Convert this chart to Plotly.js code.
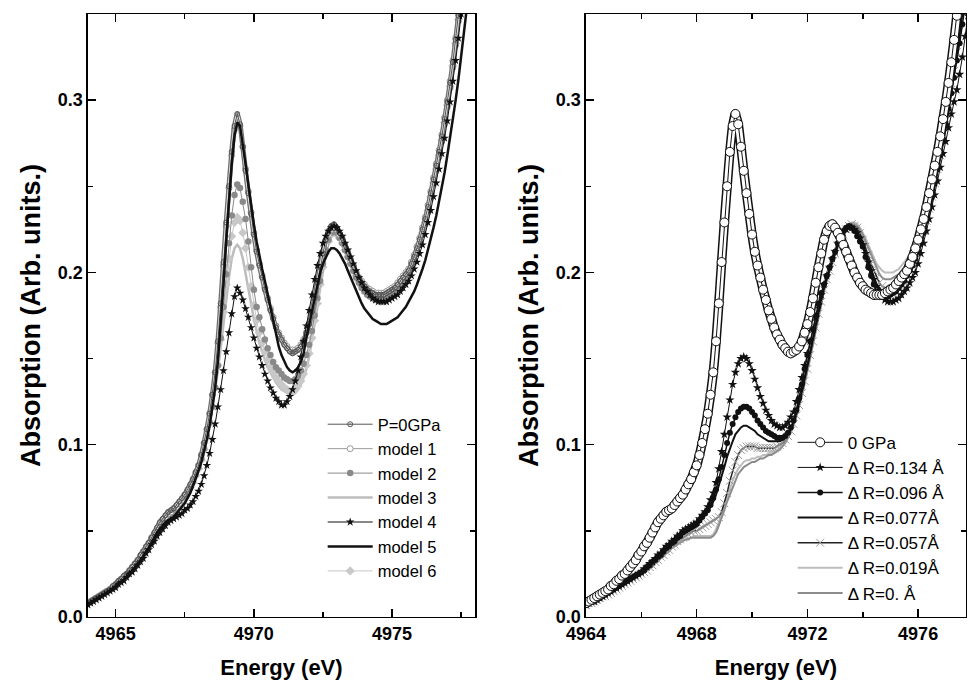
<!DOCTYPE html>
<html><head><meta charset="utf-8">
<script src="https://cdn.plot.ly/plotly-3.0.1.min.js"></script>
<style>html,body{margin:0;padding:0;background:#fff}#chart{width:969px;height:684px}</style>
</head><body><div id="chart"></div>
<script>
// Energy grid (eV)
const energy = [
4964.0,4964.1,4964.2,4964.3,4964.4,4964.5,4964.6,4964.7,4964.8,4964.9,
4965.0,4965.1,4965.2,4965.3,4965.4,4965.5,4965.6,4965.7,4965.8,4965.9,
4966.0,4966.1,4966.2,4966.3,4966.4,4966.5,4966.6,4966.7,4966.8,4966.9,
4967.0,4967.1,4967.2,4967.3,4967.4,4967.5,4967.6,4967.7,4967.8,4967.9,
4968.0,4968.1,4968.2,4968.3,4968.4,4968.5,4968.6,4968.7,4968.8,4968.9,
4969.0,4969.1,4969.2,4969.3,4969.4,4969.5,4969.6,4969.7,4969.8,4969.9,
4970.0,4970.1,4970.2,4970.3,4970.4,4970.5,4970.6,4970.7,4970.8,4970.9,
4971.0,4971.1,4971.2,4971.3,4971.4,4971.5,4971.6,4971.7,4971.8,4971.9,
4972.0,4972.1,4972.2,4972.3,4972.4,4972.5,4972.6,4972.7,4972.8,4972.9,
4973.0,4973.1,4973.2,4973.3,4973.4,4973.5,4973.6,4973.7,4973.8,4973.9,
4974.0,4974.1,4974.2,4974.3,4974.4,4974.5,4974.6,4974.7,4974.8,4974.9,
4975.0,4975.1,4975.2,4975.3,4975.4,4975.5,4975.6,4975.7,4975.8,4975.9,
4976.0,4976.1,4976.2,4976.3,4976.4,4976.5,4976.6,4976.7,4976.8,4976.9,
4977.0,4977.1,4977.2,4977.3,4977.4,4977.5,4977.6,4977.7,4977.8,4977.9,
4978.0];

// Measured spectrum at P = 0 GPa (used in both panels)
const p0GPa = [
0.008,0.009,0.010,0.011,0.012,0.013,0.014,0.015,0.016,0.018,0.019,0.021,0.022,0.024,0.025,0.027,0.029,0.031,0.033,0.036,
0.038,0.041,0.043,0.046,0.049,0.052,0.055,0.057,0.059,0.061,0.062,0.063,0.065,0.067,0.069,0.071,0.074,0.077,0.080,0.084,
0.088,0.094,0.101,0.109,0.118,0.129,0.142,0.160,0.182,0.206,0.229,0.250,0.270,0.285,0.292,0.286,0.273,0.259,0.246,0.234,
0.222,0.212,0.204,0.197,0.190,0.184,0.178,0.173,0.168,0.164,0.161,0.158,0.156,0.154,0.153,0.154,0.155,0.157,0.160,0.165,
0.170,0.177,0.185,0.194,0.203,0.211,0.219,0.224,0.227,0.228,0.226,0.223,0.220,0.216,0.212,0.208,0.204,0.200,0.197,0.194,
0.192,0.190,0.189,0.188,0.187,0.187,0.187,0.187,0.188,0.189,0.190,0.191,0.193,0.195,0.197,0.199,0.201,0.205,0.209,0.214,
0.219,0.225,0.231,0.238,0.246,0.254,0.262,0.270,0.279,0.289,0.299,0.310,0.322,0.335,0.349,0.363,0.377,0.391,0.405,0.419,0.433];

// Left panel models
const model1 = [
0.008,0.009,0.010,0.011,0.012,0.013,0.014,0.015,0.016,0.017,0.019,0.020,0.022,0.023,0.025,0.027,0.029,0.031,0.033,0.035,
0.038,0.040,0.043,0.046,0.048,0.051,0.054,0.056,0.058,0.060,0.061,0.063,0.064,0.066,0.068,0.071,0.073,0.076,0.080,0.084,
0.088,0.094,0.101,0.109,0.118,0.129,0.142,0.159,0.180,0.204,0.227,0.249,0.268,0.283,0.290,0.285,0.273,0.260,0.247,0.235,
0.223,0.213,0.205,0.198,0.191,0.185,0.179,0.174,0.169,0.165,0.162,0.159,0.157,0.155,0.155,0.155,0.156,0.158,0.161,0.165,
0.170,0.176,0.184,0.192,0.201,0.209,0.216,0.222,0.225,0.226,0.225,0.222,0.219,0.215,0.211,0.207,0.204,0.200,0.197,0.195,
0.193,0.191,0.190,0.189,0.188,0.188,0.188,0.188,0.189,0.190,0.191,0.192,0.194,0.196,0.198,0.200,0.202,0.206,0.210,0.215,
0.220,0.226,0.232,0.239,0.247,0.255,0.263,0.271,0.280,0.290,0.300,0.311,0.323,0.336,0.350,0.364,0.378,0.392,0.406,0.420,0.434];
const model2 = [
0.008,0.009,0.010,0.011,0.012,0.013,0.014,0.015,0.016,0.017,0.018,0.020,0.021,0.023,0.024,0.026,0.028,0.030,0.032,0.034,
0.036,0.039,0.041,0.044,0.046,0.049,0.051,0.053,0.055,0.057,0.059,0.061,0.063,0.065,0.067,0.070,0.072,0.075,0.079,0.083,
0.087,0.092,0.098,0.105,0.113,0.122,0.133,0.146,0.162,0.180,0.199,0.217,0.233,0.245,0.251,0.249,0.241,0.231,0.218,0.203,
0.190,0.180,0.174,0.167,0.161,0.156,0.152,0.148,0.145,0.143,0.141,0.139,0.138,0.137,0.137,0.138,0.140,0.143,0.147,0.152,
0.158,0.166,0.175,0.185,0.195,0.205,0.213,0.219,0.223,0.224,0.223,0.220,0.217,0.213,0.209,0.205,0.201,0.197,0.194,0.191,
0.189,0.187,0.186,0.185,0.184,0.184,0.184,0.184,0.185,0.186,0.187,0.188,0.190,0.192,0.194,0.196,0.198,0.202,0.206,0.211,
0.216,0.222,0.228,0.235,0.243,0.251,0.259,0.267,0.276,0.286,0.296,0.307,0.319,0.332,0.346,0.360,0.374,0.388,0.402,0.416,0.430];
const model3 = [
0.008,0.009,0.010,0.011,0.012,0.013,0.014,0.015,0.016,0.017,0.018,0.019,0.021,0.022,0.024,0.026,0.027,0.029,0.031,0.033,
0.036,0.038,0.040,0.043,0.045,0.048,0.050,0.052,0.054,0.056,0.058,0.060,0.062,0.064,0.066,0.069,0.072,0.075,0.078,0.082,
0.086,0.091,0.097,0.104,0.112,0.121,0.131,0.143,0.156,0.170,0.184,0.197,0.208,0.214,0.216,0.214,0.208,0.200,0.191,0.182,
0.173,0.165,0.159,0.154,0.149,0.145,0.142,0.139,0.136,0.134,0.132,0.131,0.130,0.129,0.129,0.130,0.132,0.135,0.139,0.144,
0.151,0.160,0.170,0.180,0.191,0.201,0.210,0.217,0.221,0.222,0.221,0.219,0.216,0.212,0.208,0.204,0.200,0.197,0.194,0.191,
0.189,0.188,0.187,0.186,0.186,0.186,0.186,0.186,0.187,0.188,0.189,0.190,0.192,0.194,0.196,0.198,0.200,0.204,0.208,0.213,
0.218,0.224,0.230,0.237,0.245,0.253,0.261,0.269,0.278,0.288,0.298,0.309,0.321,0.334,0.348,0.362,0.376,0.390,0.404,0.418,0.432];
const model4 = [
0.007,0.008,0.009,0.010,0.011,0.012,0.013,0.014,0.015,0.016,0.017,0.019,0.020,0.021,0.023,0.025,0.026,0.028,0.030,0.032,
0.034,0.037,0.039,0.042,0.044,0.047,0.049,0.051,0.053,0.055,0.056,0.057,0.058,0.059,0.060,0.062,0.063,0.065,0.067,0.070,
0.073,0.077,0.082,0.088,0.095,0.103,0.112,0.122,0.132,0.143,0.154,0.165,0.176,0.186,0.191,0.188,0.184,0.179,0.174,0.168,
0.162,0.156,0.151,0.146,0.141,0.137,0.133,0.130,0.127,0.125,0.123,0.123,0.125,0.128,0.132,0.137,0.143,0.151,0.160,0.169,
0.178,0.187,0.196,0.204,0.211,0.217,0.221,0.224,0.226,0.227,0.226,0.224,0.221,0.217,0.213,0.209,0.205,0.201,0.197,0.194,
0.191,0.189,0.187,0.185,0.184,0.183,0.183,0.183,0.183,0.184,0.185,0.186,0.187,0.189,0.191,0.193,0.195,0.198,0.202,0.206,
0.211,0.216,0.222,0.229,0.236,0.244,0.252,0.260,0.269,0.278,0.288,0.299,0.311,0.323,0.336,0.350,0.364,0.378,0.392,0.406,0.420];
const model5 = [
0.007,0.008,0.009,0.010,0.011,0.012,0.013,0.014,0.015,0.016,0.018,0.019,0.020,0.022,0.023,0.025,0.027,0.029,0.031,0.033,
0.035,0.038,0.040,0.043,0.046,0.049,0.051,0.053,0.055,0.056,0.057,0.058,0.060,0.062,0.064,0.066,0.069,0.072,0.076,0.080,
0.085,0.090,0.096,0.103,0.111,0.121,0.133,0.149,0.169,0.193,0.218,0.242,0.263,0.279,0.287,0.285,0.275,0.263,0.251,0.238,
0.228,0.218,0.209,0.202,0.195,0.187,0.179,0.171,0.163,0.157,0.152,0.148,0.145,0.143,0.142,0.143,0.145,0.148,0.153,0.162,
0.170,0.178,0.186,0.194,0.200,0.205,0.209,0.212,0.214,0.214,0.213,0.211,0.208,0.205,0.201,0.197,0.193,0.189,0.185,0.182,
0.179,0.177,0.175,0.173,0.172,0.171,0.170,0.170,0.170,0.171,0.172,0.173,0.174,0.176,0.178,0.180,0.183,0.186,0.189,0.193,
0.197,0.202,0.207,0.213,0.219,0.226,0.233,0.241,0.249,0.258,0.268,0.278,0.289,0.300,0.312,0.325,0.338,0.352,0.366,0.380,0.394];
const model6 = [
0.008,0.009,0.010,0.011,0.012,0.013,0.014,0.015,0.016,0.017,0.018,0.020,0.021,0.023,0.024,0.026,0.028,0.030,0.032,0.034,
0.036,0.039,0.041,0.043,0.046,0.048,0.051,0.053,0.055,0.057,0.059,0.061,0.063,0.065,0.067,0.069,0.072,0.075,0.078,0.082,
0.086,0.091,0.097,0.104,0.112,0.122,0.133,0.146,0.161,0.177,0.193,0.208,0.221,0.229,0.232,0.230,0.223,0.214,0.203,0.192,
0.181,0.172,0.165,0.159,0.154,0.149,0.145,0.142,0.139,0.137,0.135,0.133,0.132,0.131,0.131,0.132,0.134,0.137,0.141,0.146,
0.153,0.162,0.172,0.182,0.193,0.203,0.211,0.218,0.222,0.223,0.222,0.220,0.217,0.213,0.209,0.205,0.201,0.198,0.195,0.192,
0.190,0.188,0.187,0.186,0.185,0.185,0.185,0.185,0.186,0.187,0.188,0.189,0.191,0.193,0.195,0.197,0.199,0.203,0.207,0.212,
0.217,0.223,0.229,0.236,0.244,0.252,0.260,0.268,0.277,0.287,0.297,0.308,0.320,0.333,0.347,0.361,0.375,0.389,0.403,0.417,0.431];

// Right panel: calculated spectra for bond-length changes
const dR0134 = [
0.007,0.008,0.009,0.009,0.010,0.011,0.012,0.013,0.014,0.015,0.016,0.017,0.018,0.019,0.020,0.021,0.022,0.023,0.024,0.025,
0.026,0.028,0.029,0.031,0.032,0.034,0.036,0.037,0.039,0.041,0.042,0.044,0.045,0.047,0.048,0.050,0.051,0.052,0.053,0.054,
0.055,0.057,0.059,0.061,0.064,0.068,0.072,0.078,0.086,0.096,0.106,0.116,0.126,0.135,0.142,0.147,0.150,0.151,0.150,0.147,
0.143,0.138,0.133,0.128,0.124,0.120,0.117,0.114,0.112,0.111,0.110,0.110,0.111,0.113,0.116,0.119,0.125,0.132,0.139,0.146,
0.153,0.160,0.167,0.174,0.181,0.187,0.193,0.198,0.203,0.208,0.212,0.217,0.220,0.223,0.225,0.226,0.226,0.225,0.223,0.220,
0.216,0.211,0.206,0.201,0.196,0.192,0.189,0.186,0.184,0.183,0.183,0.183,0.184,0.185,0.187,0.189,0.191,0.194,0.197,0.200,
0.205,0.211,0.217,0.224,0.231,0.238,0.245,0.253,0.261,0.269,0.276,0.284,0.292,0.299,0.306,0.315,0.325,0.337,0.349,0.362,0.375];
const dR0096 = [
0.007,0.008,0.009,0.009,0.010,0.011,0.012,0.013,0.014,0.015,0.016,0.017,0.018,0.019,0.020,0.021,0.022,0.023,0.024,0.025,
0.026,0.027,0.029,0.030,0.032,0.033,0.035,0.036,0.038,0.040,0.041,0.043,0.044,0.046,0.047,0.049,0.050,0.051,0.052,0.053,
0.054,0.056,0.058,0.060,0.062,0.065,0.069,0.074,0.080,0.087,0.094,0.101,0.107,0.112,0.116,0.119,0.121,0.122,0.122,0.121,
0.119,0.117,0.114,0.112,0.110,0.108,0.107,0.106,0.105,0.104,0.104,0.104,0.105,0.107,0.110,0.114,0.120,0.127,0.135,0.144,
0.152,0.160,0.167,0.175,0.182,0.188,0.193,0.198,0.203,0.208,0.212,0.217,0.221,0.224,0.226,0.227,0.226,0.224,0.221,0.218,
0.215,0.209,0.203,0.198,0.193,0.189,0.187,0.186,0.186,0.186,0.187,0.188,0.189,0.191,0.193,0.195,0.198,0.201,0.204,0.208,
0.212,0.217,0.223,0.230,0.237,0.244,0.252,0.260,0.268,0.277,0.286,0.295,0.304,0.313,0.323,0.333,0.344,0.355,0.367,0.379,0.391];
const dR0077 = [
0.007,0.008,0.008,0.009,0.010,0.011,0.012,0.013,0.014,0.015,0.016,0.017,0.018,0.019,0.020,0.021,0.022,0.023,0.024,0.025,
0.026,0.027,0.028,0.030,0.031,0.033,0.034,0.036,0.037,0.039,0.040,0.042,0.043,0.045,0.046,0.048,0.049,0.050,0.051,0.052,
0.053,0.055,0.057,0.059,0.061,0.064,0.067,0.071,0.076,0.081,0.087,0.093,0.098,0.102,0.106,0.108,0.110,0.111,0.111,0.110,
0.109,0.108,0.106,0.105,0.104,0.103,0.102,0.102,0.102,0.102,0.102,0.103,0.104,0.106,0.109,0.113,0.118,0.124,0.131,0.139,
0.147,0.155,0.163,0.171,0.178,0.185,0.191,0.197,0.202,0.207,0.212,0.216,0.220,0.223,0.225,0.226,0.226,0.225,0.223,0.220,
0.216,0.211,0.206,0.201,0.197,0.193,0.191,0.189,0.188,0.188,0.188,0.189,0.190,0.191,0.193,0.195,0.197,0.200,0.203,0.207,
0.211,0.216,0.222,0.228,0.235,0.242,0.250,0.258,0.266,0.275,0.284,0.294,0.304,0.315,0.326,0.338,0.350,0.362,0.375,0.388,0.401];
const dR0057 = [
0.007,0.008,0.008,0.009,0.010,0.011,0.012,0.012,0.013,0.014,0.015,0.016,0.017,0.018,0.019,0.020,0.021,0.022,0.023,0.024,
0.025,0.026,0.027,0.029,0.030,0.032,0.033,0.035,0.036,0.038,0.039,0.041,0.042,0.044,0.045,0.046,0.047,0.048,0.049,0.050,
0.050,0.051,0.052,0.053,0.054,0.055,0.056,0.057,0.058,0.061,0.066,0.072,0.079,0.085,0.090,0.094,0.097,0.098,0.099,0.099,
0.099,0.099,0.098,0.098,0.098,0.098,0.098,0.098,0.098,0.099,0.100,0.101,0.103,0.105,0.108,0.112,0.117,0.123,0.130,0.137,
0.144,0.152,0.160,0.168,0.176,0.183,0.190,0.196,0.201,0.206,0.211,0.215,0.219,0.222,0.225,0.227,0.228,0.227,0.226,0.223,
0.219,0.215,0.210,0.205,0.201,0.197,0.194,0.192,0.191,0.190,0.190,0.191,0.192,0.193,0.195,0.197,0.199,0.202,0.205,0.209,
0.213,0.218,0.224,0.230,0.237,0.244,0.252,0.260,0.268,0.277,0.286,0.296,0.306,0.317,0.328,0.340,0.352,0.364,0.377,0.390,0.403];
const dR0019 = [
0.007,0.008,0.008,0.009,0.010,0.010,0.011,0.012,0.013,0.014,0.015,0.016,0.017,0.018,0.019,0.020,0.021,0.022,0.023,0.024,
0.025,0.026,0.027,0.028,0.030,0.031,0.033,0.034,0.036,0.037,0.039,0.040,0.041,0.043,0.044,0.045,0.045,0.046,0.046,0.047,
0.047,0.047,0.047,0.047,0.047,0.047,0.048,0.051,0.055,0.060,0.064,0.069,0.074,0.079,0.083,0.086,0.088,0.090,0.091,0.091,
0.092,0.092,0.093,0.093,0.094,0.094,0.095,0.095,0.096,0.097,0.098,0.100,0.102,0.105,0.108,0.112,0.117,0.123,0.129,0.136,
0.143,0.151,0.159,0.167,0.175,0.183,0.190,0.196,0.202,0.207,0.212,0.216,0.220,0.223,0.226,0.228,0.229,0.229,0.228,0.226,
0.223,0.220,0.216,0.212,0.208,0.205,0.203,0.201,0.200,0.200,0.200,0.200,0.201,0.202,0.204,0.206,0.208,0.211,0.214,0.218,
0.222,0.227,0.233,0.239,0.246,0.253,0.261,0.269,0.277,0.286,0.295,0.305,0.316,0.327,0.339,0.351,0.363,0.376,0.389,0.402,0.415];
const dR0000 = [
0.007,0.008,0.008,0.009,0.010,0.010,0.011,0.012,0.013,0.014,0.015,0.016,0.017,0.018,0.019,0.020,0.021,0.022,0.023,0.024,
0.025,0.026,0.027,0.028,0.029,0.031,0.032,0.034,0.035,0.037,0.038,0.040,0.041,0.042,0.043,0.044,0.045,0.045,0.046,0.046,
0.046,0.046,0.046,0.046,0.046,0.046,0.047,0.049,0.053,0.057,0.062,0.067,0.071,0.076,0.080,0.083,0.085,0.087,0.088,0.089,
0.090,0.090,0.091,0.092,0.092,0.093,0.094,0.094,0.095,0.096,0.097,0.099,0.101,0.104,0.107,0.111,0.116,0.122,0.128,0.135,
0.142,0.150,0.158,0.166,0.174,0.182,0.189,0.195,0.201,0.206,0.211,0.215,0.219,0.222,0.225,0.227,0.228,0.228,0.227,0.225,
0.222,0.218,0.214,0.210,0.206,0.202,0.199,0.197,0.196,0.196,0.196,0.197,0.198,0.199,0.201,0.203,0.205,0.208,0.211,0.215,
0.219,0.224,0.230,0.236,0.243,0.250,0.258,0.266,0.274,0.283,0.292,0.302,0.313,0.324,0.336,0.348,0.360,0.373,0.386,0.399,0.412];

const leftNames = ['P=0GPa','model 1','model 2','model 3','model 4','model 5','model 6'];
const rightNames = ['0 GPa','\u0394 R=0.134 \u00C5','\u0394 R=0.096 \u00C5','\u0394 R=0.077\u00C5','\u0394 R=0.057\u00C5','\u0394 R=0.019\u00C5','\u0394 R=0. \u00C5'];

const FONT = 'Liberation Sans, Arial, Helvetica, sans-serif';

function tr(y, name, rank, panel, style) {
  const t = {
    x: energy, y: y, name: name, legendrank: rank, type: 'scatter',
    xaxis: panel === 1 ? 'x' : 'x2', yaxis: panel === 1 ? 'y' : 'y2',
    legend: panel === 1 ? 'legend' : 'legend2',
    mode: style.marker ? 'lines+markers' : 'lines',
    line: {color: style.lc, width: style.lw, shape: 'linear'},
    hoverinfo: 'skip'
  };
  if (style.marker) t.marker = style.marker;
  return t;
}
// helper band (same data) that imitates densely stacked markers
function band(y, panel, color, width) {
  return {
    x: energy, y: y, type: 'scatter', mode: 'lines', showlegend: false, hoverinfo: 'skip',
    xaxis: panel === 1 ? 'x' : 'x2', yaxis: panel === 1 ? 'y' : 'y2',
    line: {color: color, width: width, shape: 'spline', smoothing: 0.6}
  };
}

const traces = [
  // left panel (draw order), legend order via legendrank
  tr(model3, leftNames[3], 4, 1, {lc:'#bdbdbd', lw:2.5}),
  tr(model6, leftNames[6], 7, 1, {lc:'#c8c8c8', lw:1, marker:{symbol:'diamond', size:7, color:'#c8c8c8'}}),
  tr(model2, leftNames[2], 3, 1, {lc:'#8a8a8a', lw:1, marker:{symbol:'circle', size:6.5, color:'#8a8a8a'}}),
  tr(model1, leftNames[1], 2, 1, {lc:'#9a9a9a', lw:1, marker:{symbol:'circle', size:6, color:'#ffffff', line:{color:'#9a9a9a', width:1}}}),
  band(p0GPa, 1, '#707070', 5),
  band(p0GPa, 1, '#e8e8e8', 2.4),
  tr(p0GPa, leftNames[0], 1, 1, {lc:'#555555', lw:1, marker:{symbol:'circle-open-dot', size:5, color:'#555555', line:{width:1}}}),
  tr(model5, leftNames[5], 6, 1, {lc:'#111111', lw:2.5}),
  tr(model4, leftNames[4], 5, 1, {lc:'#111111', lw:1, marker:{symbol:'star', size:6.5, color:'#111111'}}),
  // right panel
  tr(dR0019, rightNames[5], 6, 2, {lc:'#bdbdbd', lw:2}),
  tr(dR0000, rightNames[6], 7, 2, {lc:'#8c8c8c', lw:2}),
  tr(dR0057, rightNames[4], 5, 2, {lc:'#222222', lw:1.5, marker:{symbol:'x-thin-open', size:8, color:'#9a9a9a', line:{width:1, color:'#9a9a9a'}}}),
  tr(dR0077, rightNames[3], 4, 2, {lc:'#111111', lw:2}),
  tr(dR0096, rightNames[2], 3, 2, {lc:'#111111', lw:1.5, marker:{symbol:'circle', size:6, color:'#111111'}}),
  tr(dR0134, rightNames[1], 2, 2, {lc:'#111111', lw:1, marker:{symbol:'star', size:7, color:'#111111'}}),
  band(p0GPa, 2, '#111111', 9.5),
  band(p0GPa, 2, '#ffffff', 6.5),
  tr(p0GPa, rightNames[0], 1, 2, {lc:'#111111', lw:1, marker:{symbol:'circle', size:9, color:'#ffffff', line:{color:'#111111', width:1}}})
];

const tickFont = {family: FONT, size: 18, color: '#000', weight: 'bold'};
const xTitleFont = {family: FONT, size: 22, color: '#000', weight: 'bold'};
const yTitleFont = {family: FONT, size: 27, color: '#000', weight: 'bold'};

function xAxis(domain, range, tick0, dtick, minorDtick, anchor) {
  return {
    domain: domain, range: range, anchor: anchor, tick0: tick0, dtick: dtick,
    ticks: 'inside', ticklen: 8, tickwidth: 1.5, tickcolor: '#000',
    showline: true, linewidth: 1.5, linecolor: '#000', mirror: 'ticks',
    minor: {tick0: tick0, dtick: minorDtick, ticks: 'inside', ticklen: 5, tickwidth: 1.5, tickcolor: '#000', showgrid: false},
    showgrid: false, zeroline: false, tickfont: tickFont,
    title: {text: 'Energy (eV)', font: xTitleFont, standoff: 16}
  };
}
function yAxis(anchor) {
  return {
    domain: [0.098, 0.9795], range: [0, 0.35], anchor: anchor, tick0: 0, dtick: 0.1, tickformat: '.1f',
    ticks: 'inside', ticklen: 8, tickwidth: 1.5, tickcolor: '#000',
    showline: true, linewidth: 1.5, linecolor: '#000', mirror: 'ticks',
    minor: {tick0: 0, dtick: 0.05, ticks: 'inside', ticklen: 5, tickwidth: 1.5, tickcolor: '#000', showgrid: false},
    showgrid: false, zeroline: false, tickfont: tickFont,
    title: {text: 'Absorption (Arb. units.)', font: yTitleFont, standoff: 9}
  };
}

const legendCommon = {
  xanchor: 'left', yanchor: 'top', bgcolor: 'rgba(0,0,0,0)', borderwidth: 0,
  itemwidth: 45, traceorder: 'normal', itemclick: false
};

const layout = {
  width: 969, height: 684,
  margin: {l: 0, r: 0, t: 0, b: 0},
  paper_bgcolor: '#fff', plot_bgcolor: '#fff',
  showlegend: true,
  xaxis: xAxis([0.0908, 0.4902], [4964, 4978], 4965, 5, 2.5, 'y'),
  yaxis: yAxis('x'),
  xaxis2: xAxis([0.6047, 0.9969], [4964, 4977.73], 4964, 4, 2, 'y2'),
  yaxis2: yAxis('x2'),
  legend: Object.assign({}, legendCommon, {x: 0.333, y: 0.405, font: {family: FONT, size: 16.5, color: '#000'}}),
  legend2: Object.assign({}, legendCommon, {x: 0.818, y: 0.379, font: {family: FONT, size: 17, color: '#000'}})
};

Plotly.newPlot('chart', traces, layout, {displayModeBar: false, staticPlot: true});
</script></body></html>
